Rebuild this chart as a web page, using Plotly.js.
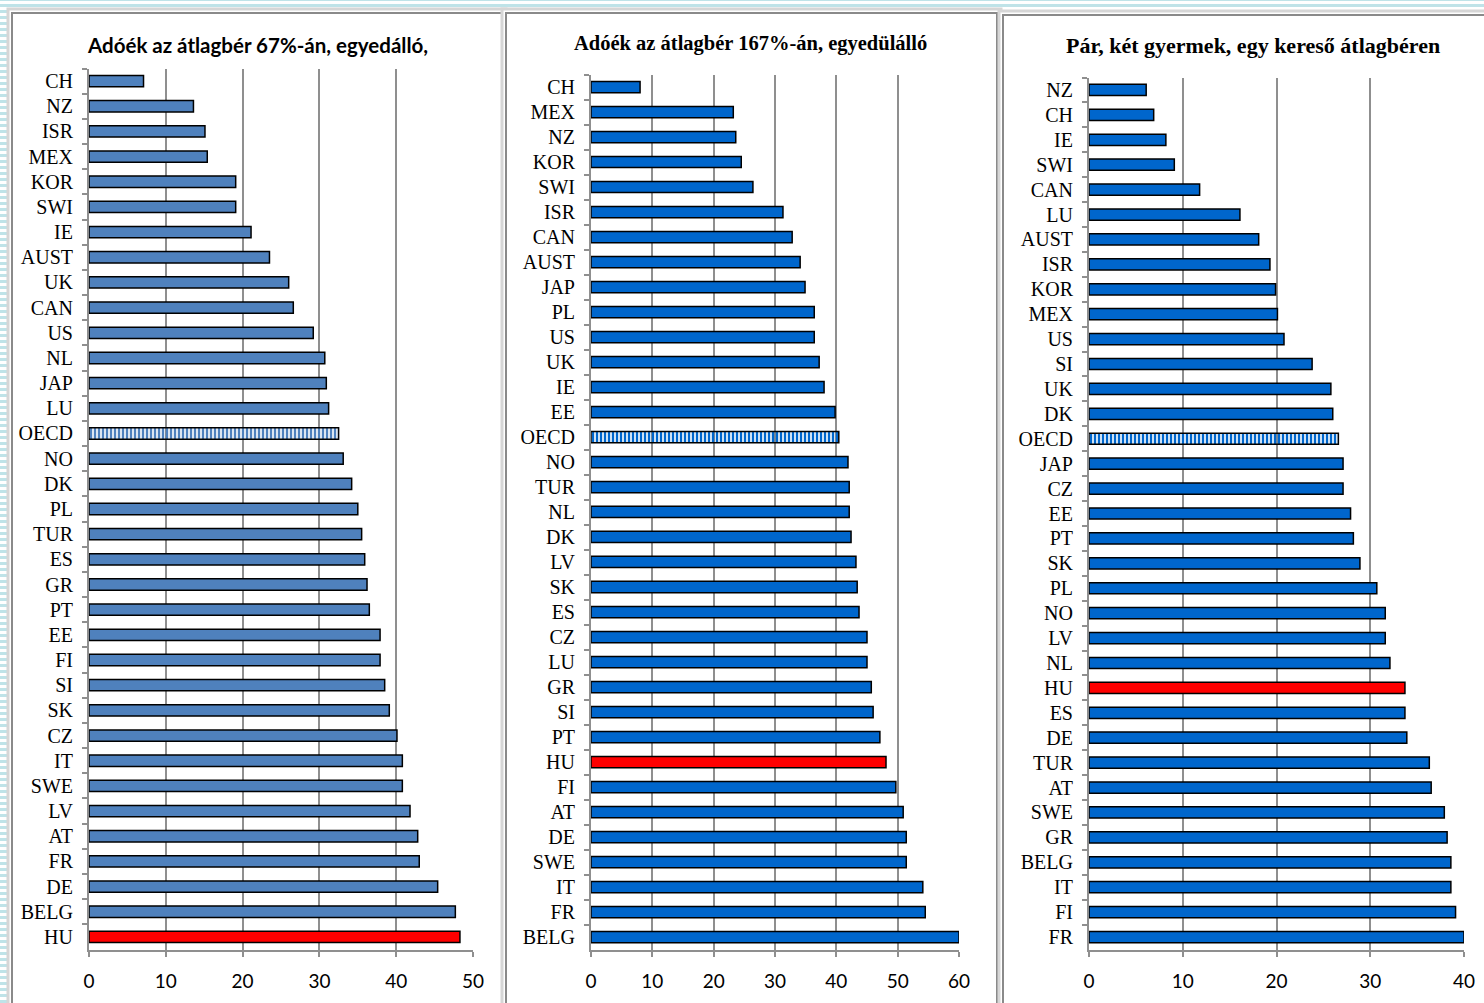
<!DOCTYPE html>
<html>
<head>
<meta charset="utf-8">
<script src="https://cdn.plot.ly/plotly-3.0.1.min.js"></script>
<style>
html,body{margin:0;padding:0;}
body{width:1484px;height:1003px;overflow:hidden;
background: repeating-linear-gradient(0deg,#bfe3e8 0px,#bfe3e8 3px,#ffffff 3px,#ffffff 6px);}
#chart{width:1484px;height:1003px;}
</style>
</head>
<body>
<div id="chart"></div>
<script>
// ---- Data ----
const title1 = "Adóék az átlagbér 67%-án, egyedálló,";
const cats1 = ["CH","NZ","ISR","MEX","KOR","SWI","IE","AUST","UK","CAN","US","NL","JAP","LU","OECD","NO","DK","PL","TUR","ES","GR","PT","EE","FI","SI","SK","CZ","IT","SWE","LV","AT","FR","DE","BELG","HU"];
const vals1 = [7.1,13.6,15.1,15.4,19.1,19.1,21.1,23.5,26.0,26.6,29.2,30.7,30.9,31.2,32.5,33.1,34.2,35.0,35.5,35.9,36.2,36.5,37.9,37.9,38.5,39.1,40.1,40.8,40.8,41.8,42.8,43.0,45.4,47.7,48.3];

const title2 = "Adóék az átlagbér 167%-án, egyedülálló";
const cats2 = ["CH","MEX","NZ","KOR","SWI","ISR","CAN","AUST","JAP","PL","US","UK","IE","EE","OECD","NO","TUR","NL","DK","LV","SK","ES","CZ","LU","GR","SI","PT","HU","FI","AT","DE","SWE","IT","FR","BELG"];
const vals2 = [8.0,23.2,23.6,24.5,26.4,31.3,32.8,34.1,34.9,36.4,36.4,37.2,38.0,39.8,40.4,41.9,42.1,42.1,42.4,43.2,43.4,43.7,45.0,45.0,45.7,46.0,47.1,48.1,49.7,50.9,51.4,51.4,54.1,54.5,60.0];

const title3 = "Pár, két gyermek, egy kereső átlagbéren";
const cats3 = ["NZ","CH","IE","SWI","CAN","LU","AUST","ISR","KOR","MEX","US","SI","UK","DK","OECD","JAP","CZ","EE","PT","SK","PL","NO","LV","NL","HU","ES","DE","TUR","AT","SWE","GR","BELG","IT","FI","FR"];
const vals3 = [6.1,6.9,8.2,9.1,11.8,16.1,18.1,19.3,19.9,20.1,20.8,23.8,25.8,26.0,26.6,27.1,27.1,27.9,28.2,28.9,30.7,31.6,31.6,32.1,33.7,33.7,33.9,36.3,36.5,37.9,38.2,38.6,38.6,39.1,40.0];

const xTicks1 = [0,10,20,30,40,50];
const xTicks2 = [0,10,20,30,40,50,60];
const xTicks3 = [0,10,20,30,40];

// ---- Build ----
const W = 1484, H = 1003;
const px = v => v / W;
const py = v => 1 - v / H;

function makeTrace(cats, vals, base, xa, ya) {
  const colors = cats.map(c => c === "HU" ? "#FF0000" : base);
  const shapes = cats.map(c => c === "OECD" ? "|" : "");
  return {
    type: "bar", orientation: "h", y: cats, x: vals,
    xaxis: xa, yaxis: ya,
    marker: {
      color: colors,
      line: {color: "#000000", width: 1.5},
      pattern: {shape: shapes, fgcolor: base, bgcolor: "#ffffff", size: 4, solidity: 0.6, fillmode: "replace"}
    },
    hoverinfo: "x+y", showlegend: false
  };
}

const traces = [
  makeTrace(cats1, vals1, "#4F81BD", "x", "y"),
  makeTrace(cats2, vals2, "#0066CC", "x2", "y2"),
  makeTrace(cats3, vals3, "#0066CC", "x3", "y3")
];

const gridC = "#8f8f8f";
function xAxis(dom, ticks, anchor) {
  return {
    domain: dom, anchor: anchor, range: [0, ticks[ticks.length-1]],
    tickvals: ticks, ticktext: ticks.map(String),
    showgrid: true, gridcolor: gridC, gridwidth: 2,
    showline: true, linecolor: gridC, linewidth: 2,
    ticks: "outside", ticklen: 5, tickcolor: gridC, tickwidth: 2,
    ticklabelstandoff: 9,
    zeroline: false, fixedrange: true,
    tickfont: {family: "Lato, 'Open Sans', sans-serif", size: 19, color: "#000"}
  };
}
function yAxis(dom, cats, anchor) {
  return {
    domain: dom, anchor: anchor, type: "category",
    categoryorder: "array", categoryarray: cats,
    autorange: "reversed",
    showgrid: false, showline: true, linecolor: gridC, linewidth: 2,
    ticks: "outside", tickson: "boundaries", ticklen: 5, tickcolor: gridC, tickwidth: 2,
    ticklabelstandoff: 10,
    zeroline: false, fixedrange: true,
    tickfont: {family: "'Liberation Serif', 'Times New Roman', serif", size: 20, color: "#000"}
  };
}

const panelShapes = [];
function panel(x0, x1, y0) {
  panelShapes.push({type:"rect", xref:"paper", yref:"paper", layer:"below",
    x0: px(x0-4), x1: px(x1+4), y0: py(1015), y1: py(y0-4),
    fillcolor:"#ffffff", line:{color:"#d6d6d6", width:3}});
  panelShapes.push({type:"rect", xref:"paper", yref:"paper", layer:"below",
    x0: px(x0), x1: px(x1), y0: py(1015), y1: py(y0),
    fillcolor:"#ffffff", line:{color:"#8a8a8a", width:2}});
}
panel(12, 502, 13);
panel(506, 997, 13);
panel(1003, 1495, 15);

function titleAnn(text, x, y, family, size) {
  return {xref:"paper", yref:"paper", x: px(x), y: py(y), text: "<b>"+text+"</b>",
    showarrow:false, xanchor:"center", yanchor:"middle",
    font:{family: family, size: size, color:"#000"}};
}

const layout = {
  width: W, height: H,
  margin: {l:0, r:0, t:0, b:0},
  paper_bgcolor: "rgba(0,0,0,0)", plot_bgcolor: "rgba(0,0,0,0)",
  bargap: 0.55,
  xaxis: xAxis([px(89), px(473)], xTicks1, "y"),
  yaxis: yAxis([py(949.5), py(68.5)], cats1, "x"),
  xaxis2: xAxis([px(591), px(959)], xTicks2, "y2"),
  yaxis2: yAxis([py(949.5), py(74.5)], cats2, "x2"),
  xaxis3: xAxis([px(1089), px(1464)], xTicks3, "y3"),
  yaxis3: yAxis([py(949.5), py(77.5)], cats3, "x3"),
  shapes: panelShapes,
  annotations: [
    titleAnn(title1, 257, 45, "Lato, 'Open Sans', sans-serif", 20.5),
    titleAnn(title2, 750, 43, "'Liberation Serif', 'Times New Roman', serif", 20.5),
    titleAnn(title3, 1253, 45, "'Liberation Serif', 'Times New Roman', serif", 22)
  ]
};

Plotly.newPlot("chart", traces, layout, {displayModeBar:false, staticPlot:true});
</script>
</body>
</html>
